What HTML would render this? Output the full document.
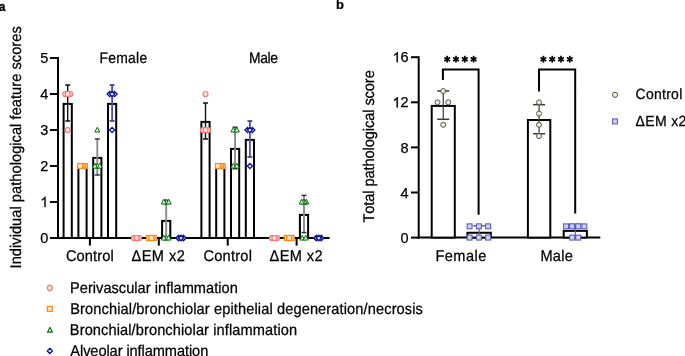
<!DOCTYPE html>
<html><head><meta charset="utf-8"><style>
html,body{margin:0;padding:0;background:#fff;}
body{width:685px;height:356px;overflow:hidden;font-family:"Liberation Sans",sans-serif;}
svg{display:block;will-change:transform;}
</style></head><body>
<svg width="685" height="356" viewBox="0 0 685 356"><line x1="58.00" y1="57.00" x2="58.00" y2="239.00" stroke="#000" stroke-width="2" stroke-linecap="butt"/>
<line x1="50.00" y1="238.00" x2="58.00" y2="238.00" stroke="#000" stroke-width="2" stroke-linecap="butt"/>
<text x="40.24" y="243.10" font-size="14.5" text-anchor="start" font-weight="normal" font-family="Liberation Sans, sans-serif" fill="#000" stroke="#000" stroke-width="0.25" >0</text>
<line x1="50.00" y1="202.00" x2="58.00" y2="202.00" stroke="#000" stroke-width="2" stroke-linecap="butt"/>
<path d="M45.64,207.10 L44.37,207.10 L44.37,198.98 Q43.91,199.42 43.15,199.86 Q42.40,200.30 41.81,200.52 L41.81,199.28 Q42.88,198.78 43.68,198.07 Q44.48,197.35 44.81,196.68 L45.64,196.68 Z" fill="#000" stroke="#000" stroke-width="0.25"/>
<line x1="50.00" y1="166.00" x2="58.00" y2="166.00" stroke="#000" stroke-width="2" stroke-linecap="butt"/>
<text x="40.24" y="171.10" font-size="14.5" text-anchor="start" font-weight="normal" font-family="Liberation Sans, sans-serif" fill="#000" stroke="#000" stroke-width="0.25" >2</text>
<line x1="50.00" y1="130.00" x2="58.00" y2="130.00" stroke="#000" stroke-width="2" stroke-linecap="butt"/>
<text x="40.24" y="135.10" font-size="14.5" text-anchor="start" font-weight="normal" font-family="Liberation Sans, sans-serif" fill="#000" stroke="#000" stroke-width="0.25" >3</text>
<line x1="50.00" y1="94.00" x2="58.00" y2="94.00" stroke="#000" stroke-width="2" stroke-linecap="butt"/>
<text x="40.24" y="99.10" font-size="14.5" text-anchor="start" font-weight="normal" font-family="Liberation Sans, sans-serif" fill="#000" stroke="#000" stroke-width="0.25" >4</text>
<line x1="50.00" y1="58.00" x2="58.00" y2="58.00" stroke="#000" stroke-width="2" stroke-linecap="butt"/>
<text x="40.24" y="63.10" font-size="14.5" text-anchor="start" font-weight="normal" font-family="Liberation Sans, sans-serif" fill="#000" stroke="#000" stroke-width="0.25" >5</text>
<line x1="57.00" y1="238.00" x2="329.50" y2="238.00" stroke="#000" stroke-width="2" stroke-linecap="butt"/>
<line x1="89.90" y1="238.00" x2="89.90" y2="245.60" stroke="#000" stroke-width="2" stroke-linecap="butt"/>
<line x1="158.80" y1="238.00" x2="158.80" y2="245.60" stroke="#000" stroke-width="2" stroke-linecap="butt"/>
<line x1="227.70" y1="238.00" x2="227.70" y2="245.60" stroke="#000" stroke-width="2" stroke-linecap="butt"/>
<line x1="296.60" y1="238.00" x2="296.60" y2="245.60" stroke="#000" stroke-width="2" stroke-linecap="butt"/>
<rect x="63.60" y="103.90" width="8.2" height="134.10" fill="#fff" stroke="#000" stroke-width="2"/><rect x="78.40" y="166.90" width="8.2" height="71.10" fill="#fff" stroke="#000" stroke-width="2"/><rect x="93.20" y="157.90" width="8.2" height="80.10" fill="#fff" stroke="#000" stroke-width="2"/><rect x="108.00" y="103.90" width="8.2" height="134.10" fill="#fff" stroke="#000" stroke-width="2"/><rect x="162.10" y="220.90" width="8.2" height="17.10" fill="#fff" stroke="#000" stroke-width="2"/><rect x="201.40" y="121.90" width="8.2" height="116.10" fill="#fff" stroke="#000" stroke-width="2"/><rect x="216.20" y="166.90" width="8.2" height="71.10" fill="#fff" stroke="#000" stroke-width="2"/><rect x="231.00" y="148.90" width="8.2" height="89.10" fill="#fff" stroke="#000" stroke-width="2"/><rect x="245.80" y="139.90" width="8.2" height="98.10" fill="#fff" stroke="#000" stroke-width="2"/><rect x="299.90" y="214.90" width="8.2" height="23.10" fill="#fff" stroke="#000" stroke-width="2"/>
<line x1="67.70" y1="85.00" x2="67.70" y2="121.00" stroke="#111" stroke-width="1.4" stroke-linecap="butt"/><line x1="65.20" y1="85.00" x2="70.20" y2="85.00" stroke="#111" stroke-width="1.5" stroke-linecap="butt"/><line x1="65.20" y1="121.00" x2="70.20" y2="121.00" stroke="#111" stroke-width="1.5" stroke-linecap="butt"/><line x1="97.30" y1="139.00" x2="97.30" y2="175.00" stroke="#8a8a8a" stroke-width="1.9" stroke-linecap="butt"/><line x1="94.80" y1="139.00" x2="99.80" y2="139.00" stroke="#333" stroke-width="1.5" stroke-linecap="butt"/><line x1="94.80" y1="175.00" x2="99.80" y2="175.00" stroke="#333" stroke-width="1.5" stroke-linecap="butt"/><line x1="112.10" y1="85.00" x2="112.10" y2="121.00" stroke="#5050b4" stroke-width="1.8" stroke-linecap="butt"/><line x1="109.60" y1="85.00" x2="114.60" y2="85.00" stroke="#2a2a98" stroke-width="1.5" stroke-linecap="butt"/><line x1="109.60" y1="121.00" x2="114.60" y2="121.00" stroke="#2a2a98" stroke-width="1.5" stroke-linecap="butt"/><line x1="166.20" y1="200.28" x2="166.20" y2="238.00" stroke="#8a8a8a" stroke-width="1.9" stroke-linecap="butt"/><line x1="163.70" y1="200.28" x2="168.70" y2="200.28" stroke="#333" stroke-width="1.5" stroke-linecap="butt"/><line x1="205.50" y1="103.00" x2="205.50" y2="139.00" stroke="#111" stroke-width="1.4" stroke-linecap="butt"/><line x1="203.00" y1="103.00" x2="208.00" y2="103.00" stroke="#111" stroke-width="1.5" stroke-linecap="butt"/><line x1="203.00" y1="139.00" x2="208.00" y2="139.00" stroke="#111" stroke-width="1.5" stroke-linecap="butt"/><line x1="235.10" y1="127.22" x2="235.10" y2="168.78" stroke="#8a8a8a" stroke-width="1.9" stroke-linecap="butt"/><line x1="232.60" y1="127.22" x2="237.60" y2="127.22" stroke="#333" stroke-width="1.5" stroke-linecap="butt"/><line x1="232.60" y1="168.78" x2="237.60" y2="168.78" stroke="#333" stroke-width="1.5" stroke-linecap="butt"/><line x1="249.90" y1="121.00" x2="249.90" y2="157.00" stroke="#5050b4" stroke-width="1.8" stroke-linecap="butt"/><line x1="247.40" y1="121.00" x2="252.40" y2="121.00" stroke="#2a2a98" stroke-width="1.5" stroke-linecap="butt"/><line x1="247.40" y1="157.00" x2="252.40" y2="157.00" stroke="#2a2a98" stroke-width="1.5" stroke-linecap="butt"/><line x1="304.00" y1="195.41" x2="304.00" y2="232.59" stroke="#8a8a8a" stroke-width="1.9" stroke-linecap="butt"/><line x1="301.50" y1="195.41" x2="306.50" y2="195.41" stroke="#333" stroke-width="1.5" stroke-linecap="butt"/><line x1="301.50" y1="232.59" x2="306.50" y2="232.59" stroke="#333" stroke-width="1.5" stroke-linecap="butt"/>
<circle cx="65.25" cy="94.00" r="2.5" fill="#ffe6e6" stroke="#ff7474" stroke-width="1.2"/><circle cx="70.15" cy="94.00" r="2.5" fill="#ffe6e6" stroke="#ff7474" stroke-width="1.2"/><circle cx="67.70" cy="94.00" r="2.5" fill="#ffe6e6" stroke="#ff7474" stroke-width="1.2"/><circle cx="67.70" cy="130.00" r="2.5" fill="#ffe6e6" stroke="#ff7474" stroke-width="1.2"/><rect x="82.45" y="163.55" width="4.9" height="4.9" fill="#ffe6cc" stroke="#ff8a14" stroke-width="1.2"/><rect x="80.85" y="163.55" width="4.9" height="4.9" fill="#ffe6cc" stroke="#ff8a14" stroke-width="1.2"/><rect x="79.25" y="163.55" width="4.9" height="4.9" fill="#ffe6cc" stroke="#ff8a14" stroke-width="1.2"/><rect x="77.65" y="163.55" width="4.9" height="4.9" fill="#ffe6cc" stroke="#ff8a14" stroke-width="1.2"/><polygon points="97.30,163.24 99.82,168.04 94.78,168.04" fill="#d4f6e4" stroke="#0b6e0b" stroke-width="1.0" stroke-linejoin="round"/><polygon points="94.85,163.24 97.37,168.04 92.33,168.04" fill="#d4f6e4" stroke="#0b6e0b" stroke-width="1.0" stroke-linejoin="round"/><polygon points="99.75,163.24 102.27,168.04 97.23,168.04" fill="#d4f6e4" stroke="#0b6e0b" stroke-width="1.0" stroke-linejoin="round"/><polygon points="97.30,127.24 99.82,132.04 94.78,132.04" fill="#d4f6e4" stroke="#0b6e0b" stroke-width="1.0" stroke-linejoin="round"/><polygon points="109.65,91.40 112.25,94.00 109.65,96.60 107.05,94.00" fill="#dbeeff" stroke="#12129a" stroke-width="1.3"/><polygon points="114.55,91.40 117.15,94.00 114.55,96.60 111.95,94.00" fill="#dbeeff" stroke="#12129a" stroke-width="1.3"/><polygon points="112.10,91.40 114.70,94.00 112.10,96.60 109.50,94.00" fill="#dbeeff" stroke="#12129a" stroke-width="1.3"/><polygon points="112.10,127.40 114.70,130.00 112.10,132.60 109.50,130.00" fill="#dbeeff" stroke="#12129a" stroke-width="1.3"/><circle cx="134.20" cy="238.00" r="2.5" fill="#ffe6e6" stroke="#ff7474" stroke-width="1.2"/><circle cx="134.20" cy="238.00" r="2.5" fill="#ffe6e6" stroke="#ff7474" stroke-width="1.2"/><circle cx="139.00" cy="238.00" r="2.5" fill="#ffe6e6" stroke="#ff7474" stroke-width="1.2"/><circle cx="139.00" cy="238.00" r="2.5" fill="#ffe6e6" stroke="#ff7474" stroke-width="1.2"/><circle cx="136.60" cy="238.00" r="2.5" fill="#ffe6e6" stroke="#ff7474" stroke-width="1.2"/><circle cx="136.60" cy="238.00" r="2.5" fill="#ffe6e6" stroke="#ff7474" stroke-width="1.2"/><rect x="146.55" y="235.55" width="4.9" height="4.9" fill="#ffe6cc" stroke="#ff8a14" stroke-width="1.2"/><rect x="146.55" y="235.55" width="4.9" height="4.9" fill="#ffe6cc" stroke="#ff8a14" stroke-width="1.2"/><rect x="151.35" y="235.55" width="4.9" height="4.9" fill="#ffe6cc" stroke="#ff8a14" stroke-width="1.2"/><rect x="151.35" y="235.55" width="4.9" height="4.9" fill="#ffe6cc" stroke="#ff8a14" stroke-width="1.2"/><rect x="148.95" y="235.55" width="4.9" height="4.9" fill="#ffe6cc" stroke="#ff8a14" stroke-width="1.2"/><rect x="148.95" y="235.55" width="4.9" height="4.9" fill="#ffe6cc" stroke="#ff8a14" stroke-width="1.2"/><polygon points="166.20,199.24 168.72,204.04 163.68,204.04" fill="#d4f6e4" stroke="#0b6e0b" stroke-width="1.0" stroke-linejoin="round"/><polygon points="163.75,199.24 166.27,204.04 161.23,204.04" fill="#d4f6e4" stroke="#0b6e0b" stroke-width="1.0" stroke-linejoin="round"/><polygon points="168.65,199.24 171.17,204.04 166.13,204.04" fill="#d4f6e4" stroke="#0b6e0b" stroke-width="1.0" stroke-linejoin="round"/><polygon points="166.20,235.24 168.72,240.04 163.68,240.04" fill="#d4f6e4" stroke="#0b6e0b" stroke-width="1.0" stroke-linejoin="round"/><polygon points="163.75,235.24 166.27,240.04 161.23,240.04" fill="#d4f6e4" stroke="#0b6e0b" stroke-width="1.0" stroke-linejoin="round"/><polygon points="168.65,235.24 171.17,240.04 166.13,240.04" fill="#d4f6e4" stroke="#0b6e0b" stroke-width="1.0" stroke-linejoin="round"/><polygon points="178.60,235.40 181.20,238.00 178.60,240.60 176.00,238.00" fill="#dbeeff" stroke="#12129a" stroke-width="1.3"/><polygon points="178.60,235.40 181.20,238.00 178.60,240.60 176.00,238.00" fill="#dbeeff" stroke="#12129a" stroke-width="1.3"/><polygon points="183.40,235.40 186.00,238.00 183.40,240.60 180.80,238.00" fill="#dbeeff" stroke="#12129a" stroke-width="1.3"/><polygon points="183.40,235.40 186.00,238.00 183.40,240.60 180.80,238.00" fill="#dbeeff" stroke="#12129a" stroke-width="1.3"/><polygon points="181.00,235.40 183.60,238.00 181.00,240.60 178.40,238.00" fill="#dbeeff" stroke="#12129a" stroke-width="1.3"/><polygon points="181.00,235.40 183.60,238.00 181.00,240.60 178.40,238.00" fill="#dbeeff" stroke="#12129a" stroke-width="1.3"/><circle cx="205.50" cy="94.00" r="2.5" fill="#ffe6e6" stroke="#ff7474" stroke-width="1.2"/><circle cx="203.05" cy="130.00" r="2.5" fill="#ffe6e6" stroke="#ff7474" stroke-width="1.2"/><circle cx="207.95" cy="130.00" r="2.5" fill="#ffe6e6" stroke="#ff7474" stroke-width="1.2"/><circle cx="205.50" cy="130.00" r="2.5" fill="#ffe6e6" stroke="#ff7474" stroke-width="1.2"/><rect x="220.25" y="163.55" width="4.9" height="4.9" fill="#ffe6cc" stroke="#ff8a14" stroke-width="1.2"/><rect x="218.65" y="163.55" width="4.9" height="4.9" fill="#ffe6cc" stroke="#ff8a14" stroke-width="1.2"/><rect x="217.05" y="163.55" width="4.9" height="4.9" fill="#ffe6cc" stroke="#ff8a14" stroke-width="1.2"/><rect x="215.45" y="163.55" width="4.9" height="4.9" fill="#ffe6cc" stroke="#ff8a14" stroke-width="1.2"/><polygon points="233.40,127.24 235.92,132.04 230.88,132.04" fill="#d4f6e4" stroke="#0b6e0b" stroke-width="1.0" stroke-linejoin="round"/><polygon points="236.80,127.24 239.32,132.04 234.28,132.04" fill="#d4f6e4" stroke="#0b6e0b" stroke-width="1.0" stroke-linejoin="round"/><polygon points="233.40,163.24 235.92,168.04 230.88,168.04" fill="#d4f6e4" stroke="#0b6e0b" stroke-width="1.0" stroke-linejoin="round"/><polygon points="236.80,163.24 239.32,168.04 234.28,168.04" fill="#d4f6e4" stroke="#0b6e0b" stroke-width="1.0" stroke-linejoin="round"/><polygon points="247.45,127.40 250.05,130.00 247.45,132.60 244.85,130.00" fill="#dbeeff" stroke="#12129a" stroke-width="1.3"/><polygon points="252.35,127.40 254.95,130.00 252.35,132.60 249.75,130.00" fill="#dbeeff" stroke="#12129a" stroke-width="1.3"/><polygon points="249.90,127.40 252.50,130.00 249.90,132.60 247.30,130.00" fill="#dbeeff" stroke="#12129a" stroke-width="1.3"/><polygon points="249.90,163.40 252.50,166.00 249.90,168.60 247.30,166.00" fill="#dbeeff" stroke="#12129a" stroke-width="1.3"/><circle cx="272.00" cy="238.00" r="2.5" fill="#ffe6e6" stroke="#ff7474" stroke-width="1.2"/><circle cx="272.00" cy="238.00" r="2.5" fill="#ffe6e6" stroke="#ff7474" stroke-width="1.2"/><circle cx="276.80" cy="238.00" r="2.5" fill="#ffe6e6" stroke="#ff7474" stroke-width="1.2"/><circle cx="276.80" cy="238.00" r="2.5" fill="#ffe6e6" stroke="#ff7474" stroke-width="1.2"/><circle cx="274.40" cy="238.00" r="2.5" fill="#ffe6e6" stroke="#ff7474" stroke-width="1.2"/><circle cx="274.40" cy="238.00" r="2.5" fill="#ffe6e6" stroke="#ff7474" stroke-width="1.2"/><rect x="284.35" y="235.55" width="4.9" height="4.9" fill="#ffe6cc" stroke="#ff8a14" stroke-width="1.2"/><rect x="284.35" y="235.55" width="4.9" height="4.9" fill="#ffe6cc" stroke="#ff8a14" stroke-width="1.2"/><rect x="289.15" y="235.55" width="4.9" height="4.9" fill="#ffe6cc" stroke="#ff8a14" stroke-width="1.2"/><rect x="289.15" y="235.55" width="4.9" height="4.9" fill="#ffe6cc" stroke="#ff8a14" stroke-width="1.2"/><rect x="286.75" y="235.55" width="4.9" height="4.9" fill="#ffe6cc" stroke="#ff8a14" stroke-width="1.2"/><rect x="286.75" y="235.55" width="4.9" height="4.9" fill="#ffe6cc" stroke="#ff8a14" stroke-width="1.2"/><polygon points="306.40,199.24 308.92,204.04 303.88,204.04" fill="#d4f6e4" stroke="#0b6e0b" stroke-width="1.0" stroke-linejoin="round"/><polygon points="304.80,199.24 307.32,204.04 302.28,204.04" fill="#d4f6e4" stroke="#0b6e0b" stroke-width="1.0" stroke-linejoin="round"/><polygon points="303.20,199.24 305.72,204.04 300.68,204.04" fill="#d4f6e4" stroke="#0b6e0b" stroke-width="1.0" stroke-linejoin="round"/><polygon points="301.60,199.24 304.12,204.04 299.08,204.04" fill="#d4f6e4" stroke="#0b6e0b" stroke-width="1.0" stroke-linejoin="round"/><polygon points="302.30,235.24 304.82,240.04 299.78,240.04" fill="#d4f6e4" stroke="#0b6e0b" stroke-width="1.0" stroke-linejoin="round"/><polygon points="305.70,235.24 308.22,240.04 303.18,240.04" fill="#d4f6e4" stroke="#0b6e0b" stroke-width="1.0" stroke-linejoin="round"/><polygon points="316.40,235.40 319.00,238.00 316.40,240.60 313.80,238.00" fill="#dbeeff" stroke="#12129a" stroke-width="1.3"/><polygon points="316.40,235.40 319.00,238.00 316.40,240.60 313.80,238.00" fill="#dbeeff" stroke="#12129a" stroke-width="1.3"/><polygon points="321.20,235.40 323.80,238.00 321.20,240.60 318.60,238.00" fill="#dbeeff" stroke="#12129a" stroke-width="1.3"/><polygon points="321.20,235.40 323.80,238.00 321.20,240.60 318.60,238.00" fill="#dbeeff" stroke="#12129a" stroke-width="1.3"/><polygon points="318.80,235.40 321.40,238.00 318.80,240.60 316.20,238.00" fill="#dbeeff" stroke="#12129a" stroke-width="1.3"/><polygon points="318.80,235.40 321.40,238.00 318.80,240.60 316.20,238.00" fill="#dbeeff" stroke="#12129a" stroke-width="1.3"/>
<circle cx="49.85" cy="287.90" r="2.5" fill="#ffe6e6" stroke="#ff7474" stroke-width="1.2"/>
<rect x="47.40" y="306.40" width="4.9" height="4.9" fill="#ffe6cc" stroke="#ff8a14" stroke-width="1.2"/>
<polygon points="50.00,327.34 52.52,332.14 47.48,332.14" fill="#d4f6e4" stroke="#0b6e0b" stroke-width="1.1" stroke-linejoin="round"/>
<polygon points="49.85,348.30 52.45,350.90 49.85,353.50 47.25,350.90" fill="#dbeeff" stroke="#12129a" stroke-width="1.3"/>
<line x1="418.70" y1="56.20" x2="418.70" y2="238.60" stroke="#000" stroke-width="2" stroke-linecap="butt"/>
<line x1="411.00" y1="237.60" x2="418.70" y2="237.60" stroke="#000" stroke-width="2" stroke-linecap="butt"/>
<text x="400.54" y="242.70" font-size="14.5" text-anchor="start" font-weight="normal" font-family="Liberation Sans, sans-serif" fill="#000" stroke="#000" stroke-width="0.25" >0</text>
<line x1="411.00" y1="192.50" x2="418.70" y2="192.50" stroke="#000" stroke-width="2" stroke-linecap="butt"/>
<text x="400.54" y="197.60" font-size="14.5" text-anchor="start" font-weight="normal" font-family="Liberation Sans, sans-serif" fill="#000" stroke="#000" stroke-width="0.25" >4</text>
<line x1="411.00" y1="147.40" x2="418.70" y2="147.40" stroke="#000" stroke-width="2" stroke-linecap="butt"/>
<text x="400.54" y="152.50" font-size="14.5" text-anchor="start" font-weight="normal" font-family="Liberation Sans, sans-serif" fill="#000" stroke="#000" stroke-width="0.25" >8</text>
<line x1="411.00" y1="102.30" x2="418.70" y2="102.30" stroke="#000" stroke-width="2" stroke-linecap="butt"/>
<path d="M397.88,107.40 L396.60,107.40 L396.60,99.28 Q396.14,99.72 395.39,100.16 Q394.64,100.60 394.05,100.82 L394.05,99.58 Q395.12,99.08 395.92,98.37 Q396.72,97.65 397.05,96.98 L397.88,96.98 Z" fill="#000" stroke="#000" stroke-width="0.25"/><text x="400.54" y="107.40" font-size="14.5" text-anchor="start" font-weight="normal" font-family="Liberation Sans, sans-serif" fill="#000" stroke="#000" stroke-width="0.25" >2</text>
<line x1="411.00" y1="57.20" x2="418.70" y2="57.20" stroke="#000" stroke-width="2" stroke-linecap="butt"/>
<path d="M397.88,62.30 L396.60,62.30 L396.60,54.18 Q396.14,54.62 395.39,55.06 Q394.64,55.50 394.05,55.72 L394.05,54.48 Q395.12,53.98 395.92,53.27 Q396.72,52.55 397.05,51.88 L397.88,51.88 Z" fill="#000" stroke="#000" stroke-width="0.25"/><text x="400.54" y="62.30" font-size="14.5" text-anchor="start" font-weight="normal" font-family="Liberation Sans, sans-serif" fill="#000" stroke="#000" stroke-width="0.25" >6</text>
<line x1="417.70" y1="237.60" x2="600.30" y2="237.60" stroke="#000" stroke-width="2" stroke-linecap="butt"/>
<rect x="431.70" y="105.92" width="23.1" height="131.68" fill="#fff" stroke="#000" stroke-width="2"/>
<rect x="467.40" y="232.76" width="23.4" height="4.84" fill="#fff" stroke="#000" stroke-width="2"/>
<rect x="527.90" y="120.01" width="22.4" height="117.59" fill="#fff" stroke="#000" stroke-width="2"/>
<rect x="563.70" y="230.88" width="23.2" height="6.72" fill="#fff" stroke="#000" stroke-width="2"/>
<line x1="443.25" y1="90.93" x2="443.25" y2="119.31" stroke="#3a3a3a" stroke-width="1.2" stroke-linecap="butt"/><line x1="437.25" y1="90.93" x2="449.25" y2="90.93" stroke="#3a3a3a" stroke-width="1.5" stroke-linecap="butt"/><line x1="437.25" y1="119.31" x2="449.25" y2="119.31" stroke="#3a3a3a" stroke-width="1.5" stroke-linecap="butt"/><line x1="479.10" y1="225.79" x2="479.10" y2="237.60" stroke="#666" stroke-width="1.2" stroke-linecap="butt"/><line x1="473.10" y1="225.79" x2="485.10" y2="225.79" stroke="#666" stroke-width="1.5" stroke-linecap="butt"/><line x1="539.10" y1="104.66" x2="539.10" y2="133.77" stroke="#3a3a3a" stroke-width="1.2" stroke-linecap="butt"/><line x1="533.10" y1="104.66" x2="545.10" y2="104.66" stroke="#3a3a3a" stroke-width="1.5" stroke-linecap="butt"/><line x1="533.10" y1="133.77" x2="545.10" y2="133.77" stroke="#3a3a3a" stroke-width="1.5" stroke-linecap="butt"/><line x1="575.30" y1="224.26" x2="575.30" y2="235.91" stroke="#666" stroke-width="1.2" stroke-linecap="butt"/><line x1="569.30" y1="224.26" x2="581.30" y2="224.26" stroke="#666" stroke-width="1.5" stroke-linecap="butt"/><line x1="569.30" y1="235.91" x2="581.30" y2="235.91" stroke="#666" stroke-width="1.5" stroke-linecap="butt"/>
<circle cx="443.20" cy="91.03" r="2.5" fill="#f1edcf" stroke="#555550" stroke-width="1.0"/>
<circle cx="437.50" cy="102.30" r="2.5" fill="#f1edcf" stroke="#555550" stroke-width="1.0"/>
<circle cx="448.30" cy="102.30" r="2.5" fill="#f1edcf" stroke="#555550" stroke-width="1.0"/>
<circle cx="443.20" cy="124.85" r="2.5" fill="#f1edcf" stroke="#555550" stroke-width="1.0"/>
<circle cx="539.00" cy="102.30" r="2.5" fill="#f1edcf" stroke="#555550" stroke-width="1.0"/>
<circle cx="539.00" cy="113.58" r="2.5" fill="#f1edcf" stroke="#555550" stroke-width="1.0"/>
<circle cx="539.00" cy="124.85" r="2.5" fill="#f1edcf" stroke="#555550" stroke-width="1.0"/>
<circle cx="539.00" cy="136.12" r="2.5" fill="#f1edcf" stroke="#555550" stroke-width="1.0"/>
<rect x="467.15" y="223.88" width="4.9" height="4.9" fill="#d6d6d6" stroke="#5a5ad8" stroke-width="1.1"/>
<rect x="467.15" y="235.15" width="4.9" height="4.9" fill="#d6d6d6" stroke="#5a5ad8" stroke-width="1.1"/>
<rect x="476.45" y="223.88" width="4.9" height="4.9" fill="#d6d6d6" stroke="#5a5ad8" stroke-width="1.1"/>
<rect x="476.45" y="235.15" width="4.9" height="4.9" fill="#d6d6d6" stroke="#5a5ad8" stroke-width="1.1"/>
<rect x="485.65" y="223.88" width="4.9" height="4.9" fill="#d6d6d6" stroke="#5a5ad8" stroke-width="1.1"/>
<rect x="485.65" y="235.15" width="4.9" height="4.9" fill="#d6d6d6" stroke="#5a5ad8" stroke-width="1.1"/>
<rect x="563.55" y="223.88" width="4.9" height="4.9" fill="#d6d6d6" stroke="#5a5ad8" stroke-width="1.1"/>
<rect x="569.65" y="223.88" width="4.9" height="4.9" fill="#d6d6d6" stroke="#5a5ad8" stroke-width="1.1"/>
<rect x="575.75" y="223.88" width="4.9" height="4.9" fill="#d6d6d6" stroke="#5a5ad8" stroke-width="1.1"/>
<rect x="581.85" y="223.88" width="4.9" height="4.9" fill="#d6d6d6" stroke="#5a5ad8" stroke-width="1.1"/>
<rect x="569.75" y="235.15" width="4.9" height="4.9" fill="#d6d6d6" stroke="#5a5ad8" stroke-width="1.1"/>
<rect x="575.75" y="235.15" width="4.9" height="4.9" fill="#d6d6d6" stroke="#5a5ad8" stroke-width="1.1"/>
<path d="M442.9,79.9 V69.6 H478.6 V214.7" fill="none" stroke="#000" stroke-width="2"/>
<path d="M539.0,91.5 V69.6 H575.2 V213.4" fill="none" stroke="#000" stroke-width="2"/>
<line x1="447.20" y1="55.80" x2="447.20" y2="62.60" stroke="#000" stroke-width="1.7" stroke-linecap="butt"/><line x1="444.34" y1="57.50" x2="450.06" y2="60.90" stroke="#000" stroke-width="1.7" stroke-linecap="butt"/><line x1="444.34" y1="60.90" x2="450.06" y2="57.50" stroke="#000" stroke-width="1.7" stroke-linecap="butt"/><line x1="456.00" y1="55.80" x2="456.00" y2="62.60" stroke="#000" stroke-width="1.7" stroke-linecap="butt"/><line x1="453.14" y1="57.50" x2="458.86" y2="60.90" stroke="#000" stroke-width="1.7" stroke-linecap="butt"/><line x1="453.14" y1="60.90" x2="458.86" y2="57.50" stroke="#000" stroke-width="1.7" stroke-linecap="butt"/><line x1="464.80" y1="55.80" x2="464.80" y2="62.60" stroke="#000" stroke-width="1.7" stroke-linecap="butt"/><line x1="461.94" y1="57.50" x2="467.66" y2="60.90" stroke="#000" stroke-width="1.7" stroke-linecap="butt"/><line x1="461.94" y1="60.90" x2="467.66" y2="57.50" stroke="#000" stroke-width="1.7" stroke-linecap="butt"/><line x1="473.60" y1="55.80" x2="473.60" y2="62.60" stroke="#000" stroke-width="1.7" stroke-linecap="butt"/><line x1="470.74" y1="57.50" x2="476.46" y2="60.90" stroke="#000" stroke-width="1.7" stroke-linecap="butt"/><line x1="470.74" y1="60.90" x2="476.46" y2="57.50" stroke="#000" stroke-width="1.7" stroke-linecap="butt"/>
<line x1="543.40" y1="55.80" x2="543.40" y2="62.60" stroke="#000" stroke-width="1.7" stroke-linecap="butt"/><line x1="540.54" y1="57.50" x2="546.26" y2="60.90" stroke="#000" stroke-width="1.7" stroke-linecap="butt"/><line x1="540.54" y1="60.90" x2="546.26" y2="57.50" stroke="#000" stroke-width="1.7" stroke-linecap="butt"/><line x1="552.20" y1="55.80" x2="552.20" y2="62.60" stroke="#000" stroke-width="1.7" stroke-linecap="butt"/><line x1="549.34" y1="57.50" x2="555.06" y2="60.90" stroke="#000" stroke-width="1.7" stroke-linecap="butt"/><line x1="549.34" y1="60.90" x2="555.06" y2="57.50" stroke="#000" stroke-width="1.7" stroke-linecap="butt"/><line x1="561.00" y1="55.80" x2="561.00" y2="62.60" stroke="#000" stroke-width="1.7" stroke-linecap="butt"/><line x1="558.14" y1="57.50" x2="563.86" y2="60.90" stroke="#000" stroke-width="1.7" stroke-linecap="butt"/><line x1="558.14" y1="60.90" x2="563.86" y2="57.50" stroke="#000" stroke-width="1.7" stroke-linecap="butt"/><line x1="569.80" y1="55.80" x2="569.80" y2="62.60" stroke="#000" stroke-width="1.7" stroke-linecap="butt"/><line x1="566.94" y1="57.50" x2="572.66" y2="60.90" stroke="#000" stroke-width="1.7" stroke-linecap="butt"/><line x1="566.94" y1="60.90" x2="572.66" y2="57.50" stroke="#000" stroke-width="1.7" stroke-linecap="butt"/>
<circle cx="615.05" cy="94.80" r="2.55" fill="#f1edcf" stroke="#555550" stroke-width="1.0"/>
<rect x="612.55" y="118.95" width="4.9" height="4.9" fill="#d6d6d6" stroke="#5a5ad8" stroke-width="1.1"/>
<text id="leg1" transform="translate(69.98,292.90) scale(1,1.06)" x="0" y="0" font-size="14.6" font-family="Liberation Sans, sans-serif" fill="#000" stroke="#000" stroke-width="0.25" text-rendering="geometricPrecision" style="font-kerning:none" textLength="167.89" lengthAdjust="spacing">Perivascular inflammation</text>
<text id="leg2" transform="translate(70.24,313.60) scale(1,1.06)" x="0" y="0" font-size="14.6" font-family="Liberation Sans, sans-serif" fill="#000" stroke="#000" stroke-width="0.25" text-rendering="geometricPrecision" style="font-kerning:none" textLength="352.68" lengthAdjust="spacing">Bronchial/bronchiolar epithelial degeneration/necrosis</text>
<text id="leg3" transform="translate(69.85,334.50) scale(1,1.06)" x="0" y="0" font-size="14.6" font-family="Liberation Sans, sans-serif" fill="#000" stroke="#000" stroke-width="0.25" text-rendering="geometricPrecision" style="font-kerning:none" textLength="227.24" lengthAdjust="spacing">Bronchial/bronchiolar inflammation</text>
<text id="leg4" transform="translate(70.35,356.40) scale(1,1.06)" x="0" y="0" font-size="14.6" font-family="Liberation Sans, sans-serif" fill="#000" stroke="#000" stroke-width="0.25" text-rendering="geometricPrecision" style="font-kerning:none" textLength="137.93" lengthAdjust="spacing">Alveolar inflammation</text>
<text id="fem_a" transform="translate(99.51,63.30) scale(1,1.1)" x="0" y="0" font-size="13.9" font-family="Liberation Sans, sans-serif" fill="#000" stroke="#000" stroke-width="0.25" text-rendering="geometricPrecision" style="font-kerning:none" textLength="47.63" lengthAdjust="spacing">Female</text>
<text id="mal_a" transform="translate(248.99,63.20) scale(1,1.1)" x="0" y="0" font-size="13.9" font-family="Liberation Sans, sans-serif" fill="#000" stroke="#000" stroke-width="0.25" text-rendering="geometricPrecision" style="font-kerning:none" textLength="28.93" lengthAdjust="spacing">Male</text>
<text id="ctl1" transform="translate(65.92,261.30) scale(1,1.06)" x="0" y="0" font-size="14.6" font-family="Liberation Sans, sans-serif" fill="#000" stroke="#000" stroke-width="0.25" text-rendering="geometricPrecision" style="font-kerning:none" textLength="47.94" lengthAdjust="spacing">Control</text>
<text id="em1" transform="translate(131.41,261.30) scale(1,1.06)" x="0" y="0" font-size="14.6" font-family="Liberation Sans, sans-serif" fill="#000" stroke="#000" stroke-width="0.25" text-rendering="geometricPrecision" style="font-kerning:none" textLength="53.50" lengthAdjust="spacing">ΔEM x2</text>
<text id="ctl2" transform="translate(203.52,261.30) scale(1,1.06)" x="0" y="0" font-size="14.6" font-family="Liberation Sans, sans-serif" fill="#000" stroke="#000" stroke-width="0.25" text-rendering="geometricPrecision" style="font-kerning:none" textLength="48.41" lengthAdjust="spacing">Control</text>
<text id="em2" transform="translate(269.54,261.30) scale(1,1.06)" x="0" y="0" font-size="14.6" font-family="Liberation Sans, sans-serif" fill="#000" stroke="#000" stroke-width="0.25" text-rendering="geometricPrecision" style="font-kerning:none" textLength="52.98" lengthAdjust="spacing">ΔEM x2</text>
<text id="fem_b" transform="translate(435.42,260.60) scale(1,1.06)" x="0" y="0" font-size="14.6" font-family="Liberation Sans, sans-serif" fill="#000" stroke="#000" stroke-width="0.25" text-rendering="geometricPrecision" style="font-kerning:none" textLength="50.89" lengthAdjust="spacing">Female</text>
<text id="mal_b" transform="translate(540.42,260.60) scale(1,1.06)" x="0" y="0" font-size="14.6" font-family="Liberation Sans, sans-serif" fill="#000" stroke="#000" stroke-width="0.25" text-rendering="geometricPrecision" style="font-kerning:none" textLength="32.46" lengthAdjust="spacing">Male</text>
<text id="ctlb" transform="translate(635.50,99.40) scale(1,1.05)" x="0" y="0" font-size="14.0" font-family="Liberation Sans, sans-serif" fill="#000" stroke="#000" stroke-width="0.25" text-rendering="geometricPrecision" style="font-kerning:none" textLength="46.81" lengthAdjust="spacing">Control</text>
<text id="emb" transform="translate(635.58,126.20) scale(1,1.05)" x="0" y="0" font-size="14.0" font-family="Liberation Sans, sans-serif" fill="#000" stroke="#000" stroke-width="0.25" text-rendering="geometricPrecision" style="font-kerning:none" textLength="50.81" lengthAdjust="spacing">ΔEM x2</text>
<text id="ylab_a" transform="translate(20.80,268.46) rotate(-90) scale(1,1.06)" x="0" y="0" font-size="14.6" font-family="Liberation Sans, sans-serif" fill="#000" stroke="#000" stroke-width="0.25" text-rendering="geometricPrecision" style="font-kerning:none" textLength="242.19" lengthAdjust="spacing">Individual pathological feature scores</text>
<text id="ylab_b" transform="translate(374.20,222.60) rotate(-90) scale(1,1.06)" x="0" y="0" font-size="14.6" font-family="Liberation Sans, sans-serif" fill="#000" stroke="#000" stroke-width="0.25" text-rendering="geometricPrecision" style="font-kerning:none" textLength="152.37" lengthAdjust="spacing">Total pathological score</text>
<text x="-1.20" y="10.50" font-size="12" text-anchor="start" font-weight="bold" font-family="Liberation Sans, sans-serif" fill="#000" stroke="#000" stroke-width="0.3" >a</text>
<text x="336.10" y="9.20" font-size="13" text-anchor="start" font-weight="bold" font-family="Liberation Sans, sans-serif" fill="#000" stroke="#000" stroke-width="0.2" >b</text></svg>
</body></html>
